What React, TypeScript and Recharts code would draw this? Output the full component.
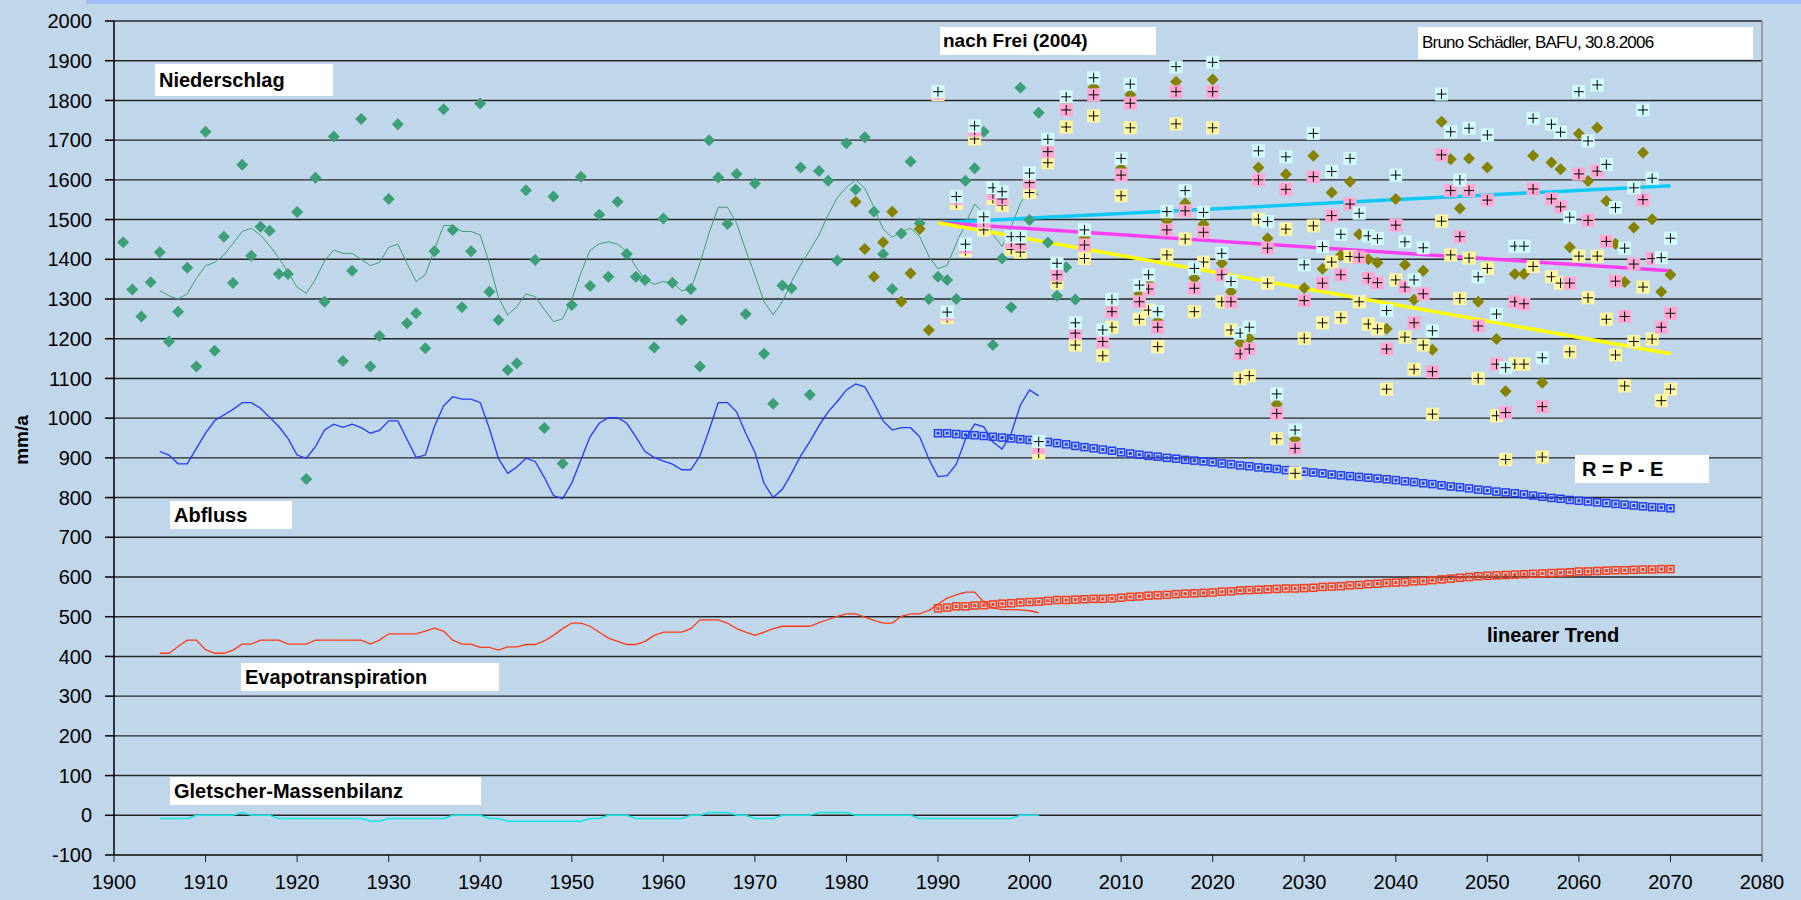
import { ComposedChart, Line, Scatter, XAxis, YAxis, CartesianGrid, ReferenceLine } from 'recharts'

const FONT = "'Liberation Sans', Arial, sans-serif"
const BG = '#c0d7eb'

// tick labels
const X_TICKS = [1900, 1910, 1920, 1930, 1940, 1950, 1960, 1970, 1980, 1990, 2000, 2010, 2020, 2030, 2040, 2050, 2060, 2070, 2080]
const Y_TICKS = [-100, 0, 100, 200, 300, 400, 500, 600, 700, 800, 900, 1000, 1100, 1200, 1300, 1400, 1500, 1600, 1700, 1800, 1900, 2000]

// observed precipitation, one value per year from 1901
const OBS_START = 1901
const niederschlag = [
  1443, 1324, 1256, 1342, 1418, 1193, 1268, 1379, 1130, 1721,
  1170, 1457, 1340, 1638, 1409, 1482, 1472, 1363, 1363, 1519,
  847, 1605, 1293, 1709, 1144, 1371, 1753, 1130, 1207, 1552,
  1740, 1239, 1264, 1176, 1420, 1778, 1474, 1279, 1420, 1792,
  1318, 1247, 1121, 1138, 1574, 1398, 975, 1558, 886, 1285,
  1608, 1333, 1512, 1356, 1545, 1413, 1356, 1348, 1178, 1503,
  1341, 1247, 1325, 1130, 1700, 1606, 1489, 1615, 1262, 1591,
  1162, 1036, 1334, 1327, 1631, 1059, 1622, 1598, 1397, 1692,
  1576, 1707, 1520, 1413, 1325, 1465, 1646, 1491, 1300, 1356,
  1348, 1300, 1598, 1629, 1721, 1184, 1402, 1279, 1832, 1499,
  1769, 1442, 1308, 1380, 1299,
]

// smoothed series, one value per year from 1905
const LINE_START = 1905
const niederschlagMittel = [
  1321, 1308, 1300, 1313, 1352, 1384, 1392, 1411, 1440, 1470,
  1478, 1461, 1434, 1404, 1367, 1330, 1314, 1350, 1396, 1423,
  1415, 1415, 1400, 1384, 1392, 1430, 1438, 1390, 1344, 1361,
  1425, 1485, 1485, 1470, 1470, 1461, 1390, 1303, 1260, 1281,
  1313, 1306, 1274, 1243, 1250, 1299, 1366, 1423, 1439, 1444,
  1438, 1419, 1381, 1350, 1337, 1344, 1340, 1321, 1325, 1390,
  1467, 1531, 1531, 1491, 1423, 1361, 1293, 1260, 1293, 1344,
  1386, 1423, 1461, 1512, 1555, 1581, 1600, 1579, 1531, 1476,
  1455, 1470, 1478, 1457, 1407, 1376, 1385, 1440, 1490, 1539,
  1516, 1463, 1432, 1482, 1541, 1575, 1562,
]
const abfluss = [
  916, 907, 885, 885, 924, 962, 994, 1008, 1022, 1039,
  1039, 1025, 1002, 979, 949, 907, 899, 928, 970, 985,
  977, 985, 976, 962, 969, 993, 993, 947, 901, 907,
  979, 1031, 1054, 1048, 1048, 1039, 974, 898, 861, 877,
  899, 891, 851, 805, 797, 837, 895, 953, 987, 1001,
  1001, 987, 953, 916, 901, 892, 884, 870, 870, 905,
  970, 1039, 1039, 1016, 962, 914, 836, 800, 821, 861,
  905, 941, 981, 1016, 1042, 1071, 1086, 1079, 1038, 993,
  970, 976, 976, 953, 897, 853, 855, 884, 947, 985,
  978, 940, 922, 962, 1033, 1071, 1056,
]
const evapo = [
  408, 408, 425, 441, 441, 417, 408, 408, 416, 431,
  431, 441, 441, 441, 431, 431, 431, 441, 441, 441,
  441, 441, 441, 431, 441, 457, 457, 457, 457, 464,
  471, 464, 441, 431, 431, 423, 423, 416, 424, 424,
  430, 430, 439, 453, 470, 484, 484, 476, 461, 446,
  438, 430, 430, 438, 453, 461, 461, 461, 470, 492,
  492, 492, 484, 470, 461, 453, 461, 470, 476, 476,
  476, 476, 485, 493, 501, 507, 507, 499, 491, 484,
  484, 501, 507, 507, 516, 531, 547, 555, 562, 562,
  537, 522, 518, 518, 517, 515, 510,
]
const gletscher = [
  -8, -8, -8, -8, 0, 0, 0, 0, 0, 7,
  0, 0, 0, -8, -8, -8, -8, -8, -8, -8,
  -8, -8, -8, -15, -15, -8, -8, -8, -8, -8,
  -8, -8, 0, 0, 0, 0, -8, -8, -15, -15,
  -15, -15, -15, -15, -15, -15, -15, -8, -8, 0,
  0, 0, -8, -8, -8, -8, -8, -8, 0, 0,
  7, 7, 7, 0, 0, -8, -8, -8, 0, 0,
  0, 0, 7, 7, 7, 7, 0, 0, 0, 0,
  0, 0, 0, -8, -8, -8, -8, -8, -8, -8,
  -8, -8, -8, -8, 0, 0, 0,
]

// scenarios after Frei (2004)
const OLIVE_START = 1981
const scenOlive = [
  1545, 1426, 1356, 1443, 1520, 1293, 1365, 1476, 1222,
  1820, 1265, 1555, 1434, 1731, 1501, 1573, 1561, 1449, 1447,
  1604, 933, 1686, 1376, 1792, 1228, 1455, 1833, 1207, 1283,
  1629, 1814, 1313, 1340, 1245, 1497, 1847, 1541, 1352, 1488,
  1853, 1390, 1318, 1189, 1201, 1631, 1453, 1035, 1614, 947,
  1328, 1661, 1376, 1568, 1410, 1595, 1463, 1400, 1391, 1225,
  1552, 1386, 1298, 1371, 1172, 1746, 1652, 1528, 1654, 1293,
  1631, 1199, 1068, 1363, 1363, 1661, 1089, 1644, 1627, 1430,
  1716, 1597, 1731, 1547, 1439, 1343, 1480, 1668, 1501, 1318,
  1361,
]
const SCEN_START = 1990
const scenCyan = [
  1822, 1267, 1558, 1438, 1736, 1507, 1580, 1570, 1457, 1457,
  1617, 941, 1702, 1390, 1809, 1240, 1474, 1857, 1222, 1299,
  1654, 1841, 1335, 1361, 1268, 1520, 1885, 1573, 1377, 1518,
  1896, 1415, 1344, 1214, 1229, 1673, 1495, 1061, 1658, 970,
  1386, 1717, 1432, 1621, 1463, 1654, 1516, 1459, 1452, 1271,
  1612, 1444, 1348, 1429, 1220, 1816, 1721, 1600, 1730, 1356,
  1713, 1262, 1127, 1433, 1433, 1755, 1152, 1740, 1720, 1506,
  1822, 1698, 1839, 1639, 1530, 1428, 1580, 1776, 1604, 1404,
  1453,
]
const scenPink = [
  1818, 1262, 1553, 1431, 1725, 1495, 1565, 1552, 1443, 1438,
  1593, 926, 1671, 1361, 1776, 1214, 1436, 1814, 1193, 1268,
  1612, 1793, 1293, 1325, 1229, 1474, 1822, 1522, 1327, 1468,
  1822, 1361, 1293, 1162, 1174, 1600, 1428, 1012, 1576, 924,
  1296, 1608, 1340, 1510, 1361, 1539, 1405, 1352, 1341, 1174,
  1486, 1330, 1240, 1313, 1117, 1663, 1573, 1457, 1573, 1232,
  1549, 1136, 1014, 1293, 1288, 1577, 1029, 1552, 1532, 1340,
  1615, 1498, 1622, 1445, 1345, 1256, 1388, 1550, 1402, 1229,
  1264,
]
const scenYellow = [
  1815, 1253, 1541, 1422, 1703, 1474, 1553, 1536, 1425, 1418,
  1568, 912, 1643, 1340, 1733, 1184, 1402, 1761, 1157, 1229,
  1560, 1731, 1249, 1272, 1180, 1411, 1741, 1451, 1268, 1393,
  1731, 1293, 1222, 1100, 1107, 1501, 1340, 948, 1476, 861,
  1201, 1484, 1240, 1393, 1253, 1407, 1293, 1237, 1225, 1073,
  1348, 1204, 1123, 1184, 1010, 1496, 1411, 1301, 1403, 1100,
  1377, 1006, 896, 1136, 1136, 1382, 902, 1356, 1340, 1167,
  1408, 1303, 1408, 1249, 1159, 1081, 1193, 1330, 1199, 1044,
  1073,
]
const abflussProj = [
  962, 962, 960, 958, 957, 955, 953, 951, 949, 947,
  945, 943, 940, 937, 934, 930, 927, 924, 921, 918,
  914, 911, 908, 905, 903, 900, 898, 895, 893, 891,
  889, 886, 884, 881, 879, 876, 874, 872, 869, 867,
  865, 863, 861, 858, 856, 854, 852, 850, 848, 846,
  844, 841, 839, 836, 834, 831, 828, 826, 823, 820,
  818, 815, 813, 811, 808, 805, 802, 799, 797, 794,
  792, 790, 788, 786, 784, 782, 780, 778, 776, 775,
  773,
]
const evapoProj = [
  521, 523, 526, 526, 528, 529, 531, 533, 534, 536,
  537, 538, 540, 542, 542, 543, 544, 545, 545, 546,
  548, 550, 551, 553, 554, 555, 557, 558, 559, 560,
  561, 563, 564, 566, 567, 568, 569, 570, 571, 571,
  572, 573, 575, 576, 577, 579, 580, 582, 583, 585,
  586, 587, 589, 590, 592, 594, 596, 598, 600, 602,
  603, 604, 605, 606, 607, 608, 609, 610, 611, 612,
  614, 614, 615, 616, 617, 617, 618, 619, 619, 620,
  620,
]

// linear trends (start, end)
const TREND_YEARS = [1990, 2070]
const trendCyan = [1492, 1585]
const trendPink = [1492, 1371]
const trendYellow = [1492, 1162]

const pts = (start: number, vals: number[]) => vals.map((v, i) => ({ year: start + i, v }))
const pairs = (years: number[], vals: number[]) => vals.map((v, i) => ({ year: years[i], v }))

const Diamond = (color: string) => (p: any) => (
  <polygon
    points={`${p.cx},${p.cy - 6} ${p.cx + 6},${p.cy} ${p.cx},${p.cy + 6} ${p.cx - 6},${p.cy}`}
    fill={color}
  />
)

const PlusSquare = (color: string) => (p: any) => (
  <g>
    <rect x={p.cx - 6.5} y={p.cy - 6.5} width={13} height={13} fill={color} />
    <path d={`M${p.cx - 5} ${p.cy} H${p.cx + 5} M${p.cx} ${p.cy - 5} V${p.cy + 5}`} stroke='#000' strokeWidth={1} />
  </g>
)

const SmallSquare = (color: string) => (p: any) => (
  <g>
    <rect x={p.cx - 3.5} y={p.cy - 3.5} width={7} height={7} fill='none' stroke={color} strokeWidth={1.5} />
    <rect x={p.cx - 1.5} y={p.cy - 1.5} width={3} height={3} fill={color} />
  </g>
)

const boxStyle = (left: number, top: number, width: number, height: number, size = 20, pad = 4): React.CSSProperties => ({
  position: 'absolute',
  left,
  top,
  width,
  height,
  lineHeight: `${height}px`,
  background: '#fff',
  fontFamily: FONT,
  fontWeight: 'bold',
  fontSize: size,
  paddingLeft: pad,
  boxSizing: 'border-box',
  color: '#000',
  whiteSpace: 'nowrap',
})

export default function App() {
  const tick = { fill: '#000', fontSize: 20, fontFamily: FONT }
  return (
    <div style={{ position: 'absolute', left: 0, top: 0, width: 1801, height: 900, background: BG, overflow: 'hidden' }}>
      <div style={{ position: 'absolute', left: 86, top: 0, width: 1715, height: 4, background: '#a0bdf8' }} />
      <ComposedChart width={1801} height={900} margin={{ top: 21, right: 39, bottom: 0, left: 0 }}>
        <CartesianGrid vertical={false} stroke='#262626' strokeWidth={1.4} />
        <XAxis
          type='number'
          dataKey='year'
          domain={[1900, 2080]}
          ticks={X_TICKS}
          height={45}
          tickSize={7}
          tickMargin={13}
          tick={tick}
          stroke='#222'
          allowDataOverflow
        />
        <YAxis
          type='number'
          dataKey='v'
          domain={[-100, 2000]}
          ticks={Y_TICKS}
          width={114}
          tickSize={9}
          tickMargin={13}
          tick={tick}
          stroke='#000'
          strokeWidth={1.5}
          interval={0}
          allowDataOverflow
        />
        <ReferenceLine x={2080} stroke='#8c8c8c' strokeWidth={1.5} />

        <Line data={pts(LINE_START, niederschlagMittel)} dataKey='v' stroke='#3c9f77' strokeWidth={1} dot={false} isAnimationActive={false} />
        <Line data={pts(LINE_START, abfluss)} dataKey='v' stroke='#1f3cff' strokeWidth={1.3} dot={false} isAnimationActive={false} />
        <Line data={pts(LINE_START, evapo)} dataKey='v' stroke='#ff3a14' strokeWidth={1.3} dot={false} isAnimationActive={false} />
        <Line data={pts(LINE_START, gletscher)} dataKey='v' stroke='#10e4e4' strokeWidth={1.6} dot={false} isAnimationActive={false} />

        <Scatter data={pts(SCEN_START, abflussProj)} shape={SmallSquare('#1f3cff')} isAnimationActive={false} />
        <Scatter data={pts(SCEN_START, evapoProj)} shape={SmallSquare('#ff3a14')} isAnimationActive={false} />

        <Scatter data={pts(OBS_START, niederschlag)} shape={Diamond('#3c9f77')} isAnimationActive={false} />
        <Scatter data={pts(OLIVE_START, scenOlive)} shape={Diamond('#858200')} isAnimationActive={false} />
        <Scatter data={pts(SCEN_START, scenYellow)} shape={PlusSquare('#fff7a0')} isAnimationActive={false} />
        <Scatter data={pts(SCEN_START, scenPink)} shape={PlusSquare('#ffa8d4')} isAnimationActive={false} />
        <Scatter data={pts(SCEN_START, scenCyan)} shape={PlusSquare('#d2fdff')} isAnimationActive={false} />

        <Line data={pairs(TREND_YEARS, trendCyan)} dataKey='v' stroke='#10c8f4' strokeWidth={3.5} dot={false} isAnimationActive={false} />
        <Line data={pairs(TREND_YEARS, trendPink)} dataKey='v' stroke='#ff40f0' strokeWidth={3.5} dot={false} isAnimationActive={false} />
        <Line data={pairs(TREND_YEARS, trendYellow)} dataKey='v' stroke='#ffff00' strokeWidth={3.5} dot={false} isAnimationActive={false} />
      </ComposedChart>

      <div
        style={{
          position: 'absolute',
          left: 22,
          top: 440,
          transform: 'translate(-50%, -50%) rotate(-90deg)',
          fontFamily: FONT,
          fontWeight: 'bold',
          fontSize: 19,
          whiteSpace: 'nowrap',
        }}
      >
        mm/a
      </div>

      <div style={boxStyle(155, 64, 178, 32)}>Niederschlag</div>
      <div style={boxStyle(940, 27, 216, 28, 19, 3)}>nach Frei (2004)</div>
      <div style={{ ...boxStyle(1418, 27, 335, 32, 17, 4), fontWeight: 'normal', letterSpacing: -0.8 }}>
        Bruno Schädler, BAFU, 30.8.2006
      </div>
      <div style={boxStyle(170, 501, 122, 28)}>Abfluss</div>
      <div style={boxStyle(241, 663, 258, 28)}>Evapotranspiration</div>
      <div style={boxStyle(170, 777, 311, 28)}>Gletscher-Massenbilanz</div>
      <div style={boxStyle(1575, 455, 134, 28, 20, 7)}>R = P - E</div>
      <div style={{ ...boxStyle(1487, 621, 160, 28), background: 'transparent', paddingLeft: 0 }}>linearer Trend</div>
    </div>
  )
}
